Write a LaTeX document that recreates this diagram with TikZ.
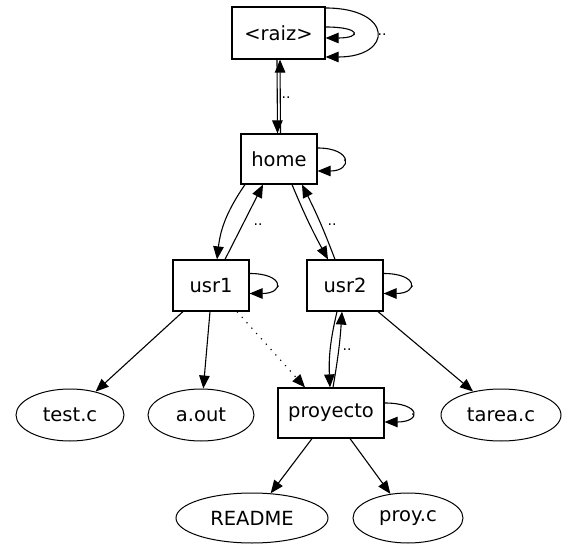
\documentclass[tikz,border=0pt]{standalone}
\usepackage{fontspec}
\setmainfont{DejaVu Sans}
\usetikzlibrary{arrows.meta,shapes.geometric}
\begin{document}
\begin{tikzpicture}[x=1pt,y=-1pt,
  every node/.style={font=\fontsize{19.5}{21}\selectfont},
  box/.style={draw,line width=1.2pt,rectangle,inner sep=0pt},
  oval/.style={draw,line width=1pt,ellipse,inner sep=0pt},
  arr/.style={line width=1.1pt,-{Triangle[length=13pt,width=10.5pt]}},
  lbl/.style={font=\fontsize{14}{14}\selectfont,inner sep=0pt}]
\useasboundingbox (0,0) rectangle (562,545);
% nodes
\node[box,minimum width=93pt,minimum height=52pt] (raiz) at (278.5,33) {<raiz>};
\node[box,minimum width=76pt,minimum height=50pt] (home) at (279,159) {home};
\node[box,minimum width=76pt,minimum height=51pt] (usr1) at (211,285.5) {usr1};
\node[box,minimum width=76pt,minimum height=51pt] (usr2) at (345,285.5) {usr2};
\node[box,minimum width=106pt,minimum height=50pt] (proy) at (331,413) {proyecto};
\node[oval,minimum width=108pt,minimum height=52pt] (test) at (70,415) {test.c};
\node[oval,minimum width=106pt,minimum height=52pt] (aout) at (201,415) {a.out};
\node[oval,minimum width=120pt,minimum height=52pt] (tarea) at (501,415) {tarea.c};
\node[oval,minimum width=152pt,minimum height=50pt] (readme) at (252,518) {README};
\node[oval,minimum width=110pt,minimum height=50pt] (proyc) at (408,518) {proy.c};
% self loops
\draw[arr] ([yshift=6pt]raiz.east) to[out=0,in=0,distance=36pt] ([yshift=-5pt]raiz.east);
\draw[arr] ([yshift=25pt]raiz.east) to[out=0,in=0,distance=68pt] ([yshift=-24pt]raiz.east);
\draw[arr] ([yshift=11pt]home.east) to[out=0,in=0,distance=35pt] ([yshift=-12pt]home.east);
\draw[arr] ([yshift=12pt]usr1.east) to[out=0,in=0,distance=35pt] ([yshift=-8pt]usr1.east);
\draw[arr] ([yshift=12pt]usr2.east) to[out=0,in=0,distance=35pt] ([yshift=-8pt]usr2.east);
\draw[arr] ([yshift=10pt]proy.east) to[out=0,in=0,distance=37pt] ([yshift=-9pt]proy.east);
% loop labels
\node[lbl] (l1) at (354,35) {.};
\node[lbl] (l2) at (382,35) {..};
\node[lbl] (l3) at (345,161) {.};
\node[lbl] (l4) at (278,287) {.};
\node[lbl] (l5) at (412,287) {.};
\node[lbl] (l6) at (413,415) {.};
% raiz - home
\draw[arr] ([xshift=-1.5pt]raiz.south) -- ([xshift=-1.5pt]home.north);
\draw[arr] ([xshift=1.5pt]home.north) -- ([xshift=1.5pt]raiz.south);
\node[lbl] (l7) at (286,98) {..};
% home - usr1
\draw[arr] ([xshift=-34pt]home.south) to[bend right=14] ([xshift=6pt]usr1.north);
\draw[arr] ([xshift=14pt]usr1.north) -- ([xshift=-16pt]home.south);
\node[lbl] (l8) at (258,225) {..};
% home - usr2
\draw[arr] ([xshift=13pt]home.south) to[bend right=3] ([xshift=-17pt]usr2.north);
\draw[arr] ([xshift=-10pt]usr2.north) to[bend right=3] ([xshift=23pt]home.south);
\node[lbl] (l9) at (332,225) {..};
% usr2 - proyecto
\draw[arr] ([xshift=-8pt]usr2.south) to[bend right=8] ([xshift=-1pt]proy.north);
\draw[arr] ([xshift=2pt]proy.north) to[bend right=3] ([xshift=-3pt]usr2.south);
\node[lbl] (l10) at (347,350) {..};
% leaves
\draw[arr] ([xshift=-28pt]usr1.south) -- (test);
\draw[arr] ([xshift=-1pt]usr1.south) -- (aout);
\draw[arr,dash pattern=on 1.2pt off 6pt] ([xshift=26pt]usr1.south) -- ([xshift=-26pt]proy.north);
\draw[arr] ([xshift=33pt]usr2.south) -- (tarea);
\draw[arr] ([xshift=-19pt]proy.south) -- (readme);
\draw[arr] ([xshift=19pt]proy.south) -- (proyc);
\end{tikzpicture}
\end{document}
